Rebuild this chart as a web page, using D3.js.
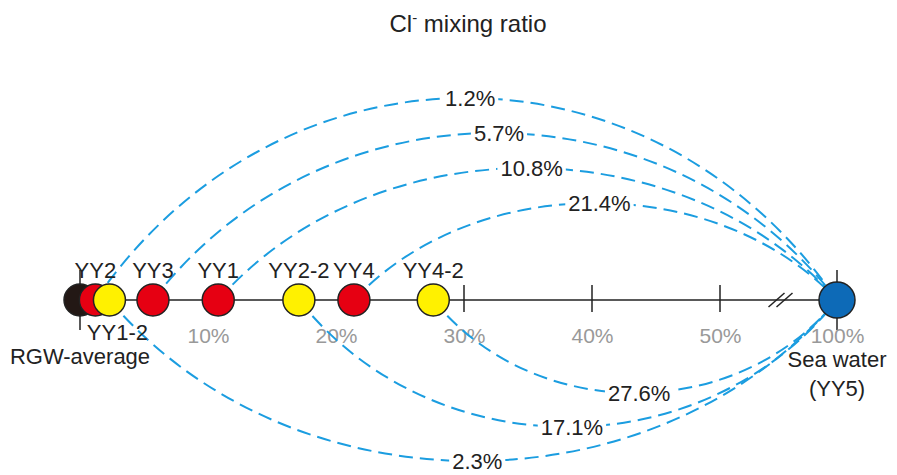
<!DOCTYPE html>
<html>
<head>
<meta charset="utf-8">
<script src="https://cdn.jsdelivr.net/npm/d3@7"></script>
<style>
  body { margin: 0; background: #fff; }
  text { font-family: Arial, "Liberation Sans", sans-serif; }
</style>
</head>
<body>
<div id="chart"></div>
<script>
'use strict'

// sampling points and their Cl- mixing ratio (%)
let pointNames = ['RGW-average', 'YY2', 'YY1-2', 'YY3', 'YY1', 'YY2-2', 'YY4', 'YY4-2', 'YY5']
let pointRatio = [0, 1.2, 2.3, 5.7, 10.8, 17.1, 21.4, 27.6, 100]
let pointGroup = ['rgw', 'red', 'yellow', 'red', 'red', 'yellow', 'red', 'yellow', 'sea']

let tickValues = [10, 20, 30, 40, 50, 100]
let tickLabels = ['10%', '20%', '30%', '40%', '50%', '100%']
let markedTicks = [30, 40, 50]
let endTicks = [0, 100]

let title = 'mixing ratio'

function wrapper(){
	let width = 897, height = 475
	let axisY = 300
	let r = 16

	let colors = {
		'rgw' : '#231815',
		'red' : '#e60012',
		'yellow' : '#fff100',
		'sea' : '#0d6ab7'
	}
	let arcColor = '#1b9de0'

	let svg = d3.select('#chart').append('svg')
		.attr('width', width)
		.attr('height', height)

	// broken axis: 0-50 linear, then jump to 100
	let xScale = d3.scaleLinear().domain([0, 50, 100]).range([80, 720, 837])

	let points = pointNames.map(function(n, i){
		return {name: n, value: pointRatio[i], group: pointGroup[i]}
	})
	let sea = points.filter(function(p){ return p.group == 'sea' })[0]

	// title
	let t = svg.append('text')
		.attr('x', 468)
		.attr('y', 32)
		.attr('text-anchor', 'middle')
		.style('font-size', '24px')
		.attr('fill', '#222')
	t.append('tspan').text('Cl')
	t.append('tspan').text('-').attr('dy', -9).style('font-size', '15px')
	t.append('tspan').text(' ' + title).attr('dy', 9)

	// axis line
	svg.append('line')
		.attr('x1', xScale(0)).attr('x2', xScale(100))
		.attr('y1', axisY).attr('y2', axisY)
		.attr('stroke', '#222').attr('stroke-width', 1.5)

	svg.selectAll('.tick-mark')
		.data(markedTicks)
		.enter()
		.append('line')
		.attr('x1', function(d){ return xScale(d) })
		.attr('x2', function(d){ return xScale(d) })
		.attr('y1', axisY - 15).attr('y2', axisY + 12)
		.attr('stroke', '#222').attr('stroke-width', 1.5)

	svg.selectAll('.end-tick')
		.data(endTicks)
		.enter()
		.append('line')
		.attr('x1', function(d){ return xScale(d) })
		.attr('x2', function(d){ return xScale(d) })
		.attr('y1', axisY - 30).attr('y2', axisY + 30)
		.attr('stroke', '#222').attr('stroke-width', 1.5)

	// axis break //
	let bx = (xScale(50) + xScale(100)) / 2 + 2
	svg.selectAll('.brk')
		.data([-4, 4])
		.enter()
		.append('line')
		.attr('x1', function(d){ return bx + d - 8 })
		.attr('x2', function(d){ return bx + d + 8 })
		.attr('y1', axisY + 7).attr('y2', axisY - 7)
		.attr('stroke', '#222').attr('stroke-width', 1.5)

	// tick labels via d3 axis
	let axisG = svg.append('g')
		.attr('transform', 'translate(0,' + (axisY + 28) + ')')
		.call(d3.axisBottom(xScale).tickValues(tickValues).tickSize(0)
			.tickFormat(function(d, i){ return tickLabels[i] }))
	axisG.select('.domain').remove()
	axisG.selectAll('text')
		.attr('y', 0).attr('dy', '0.71em')
		.attr('fill', '#999')
		.style('font-size', '21px')
		.style('font-family', 'Arial, "Liberation Sans", sans-serif')

	// mixing arcs to sea water
	let mixers = points.filter(function(p){ return p.group == 'red' || p.group == 'yellow' })
	function rankOf(p){
		let same = mixers.filter(function(q){ return q.group == p.group })
		same.sort(function(a, b){ return b.value - a.value })
		return same.indexOf(p)
	}
	mixers.forEach(function(p){
		p.side = p.group == 'red' ? -1 : 1
		p.h = p.side < 0 ? 97 + 35 * rankOf(p) : 93 + 34 * rankOf(p)
	})

	function arcPath(p){
		let x0 = xScale(p.value), x1 = xScale(sea.value)
		let c = 0.25 * (x1 - x0)
		let cy = axisY + p.side * p.h / 0.75
		return 'M' + x0 + ',' + axisY +
			'C' + (x0 + c) + ',' + cy + ' ' + (x1 - c) + ',' + cy + ' ' + x1 + ',' + axisY
	}

	svg.selectAll('.arc')
		.data(mixers)
		.enter()
		.append('path')
		.attr('d', arcPath)
		.attr('fill', 'none')
		.attr('stroke', arcColor)
		.attr('stroke-width', 2)
		.attr('stroke-dasharray', '14,7')

	let labG = svg.selectAll('.arc-label')
		.data(mixers)
		.enter()
		.append('g')
	labG.append('text')
		.attr('x', function(d){ return (xScale(d.value) + xScale(sea.value)) / 2 + 4 })
		.attr('y', function(d){ return axisY + d.side * d.h })
		.attr('dy', '0.36em')
		.attr('text-anchor', 'middle')
		.style('font-size', '22px')
		.attr('fill', '#222')
		.text(function(d){ return d3.format('.1f')(d.value) + '%' })
	labG.each(function(){
		let g = d3.select(this)
		let bb = g.select('text').node().getBBox()
		g.insert('rect', 'text')
			.attr('x', bb.x - 3).attr('y', bb.y + 2)
			.attr('width', bb.width + 6).attr('height', bb.height - 4)
			.attr('fill', '#fff')
	})

	// sample circles
	svg.selectAll('.pt')
		.data(points)
		.enter()
		.append('circle')
		.attr('cx', function(d){ return xScale(d.value) })
		.attr('cy', axisY)
		.attr('r', function(d){ return d.group == 'sea' ? r + 2 : r })
		.attr('fill', function(d){ return colors[d.group] })
		.attr('stroke', '#222')
		.attr('stroke-width', 1.5)

	// point labels
	let below = {'YY1-2' : [8, 340], 'RGW-average' : [0, 364]}
	points.forEach(function(p){
		let x = xScale(p.value)
		if (p.group == 'sea'){
			svg.append('text').attr('x', x).attr('y', 367).attr('text-anchor', 'middle')
				.style('font-size', '22px').attr('fill', '#222').text('Sea water')
			svg.append('text').attr('x', x).attr('y', 396).attr('text-anchor', 'middle')
				.style('font-size', '22px').attr('fill', '#222').text('(' + p.name + ')')
			return
		}
		let pos = below[p.name] || [0, 278]
		svg.append('text')
			.attr('x', x + pos[0])
			.attr('y', pos[1])
			.attr('text-anchor', 'middle')
			.style('font-size', '22px')
			.attr('fill', '#222')
			.text(p.name)
	})
}

wrapper()
</script>
</body>
</html>
